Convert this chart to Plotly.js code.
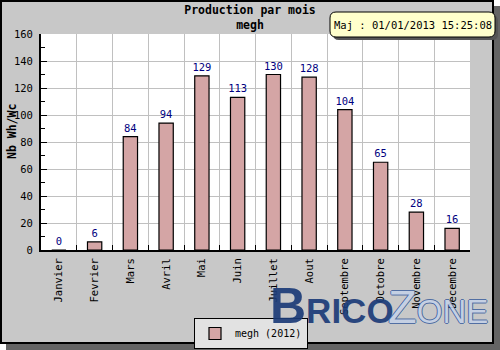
<!DOCTYPE html>
<html>
<head>
<meta charset="utf-8">
<script src="https://cdn.plot.ly/plotly-3.0.1.min.js"></script>
<style>
  html, body { margin: 0; padding: 0; background: #ffffff; }
  #frame {
    position: absolute; left: 0; top: 0;
    width: 490px; height: 340px;
    border: 2px solid #000000;
    background: #c8c8c8;
    box-shadow: 6px 6px 0 #646464;
  }
  #chart { position: absolute; left: 0; top: 0; width: 500px; height: 350px; }
</style>
</head>
<body>
<div id="frame"></div>
<div id="chart"></div>
<script>
// Monthly production data
const months = ['Janvier', 'Fevrier', 'Mars', 'Avril', 'Mai', 'Juin',
                'Juillet', 'Aout', 'Septembre', 'Octobre', 'Novembre', 'Decembre'];
const production = [0, 6, 84, 94, 129, 113, 130, 128, 104, 65, 28, 16];
const seriesName = 'megh (2012)';
const chartTitle = 'Production par mois<br>megh';
const yTitle = 'Nb Wh/Wc';
const updateStamp = 'Maj : 01/01/2013 15:25:08';

// Plot area edges in page pixels, used to place the decorations
const L = 41, R = 470, T = 34, B = 250;
const px = x => (x - L) / (R - L);
const py = y => (B - y) / (B - T);

function roundRectPath(x0, y0, x1, y1, r) {
  const p = (x, y) => px(x) + ',' + py(y);
  return 'M' + p(x0 + r, y0) + ' L' + p(x1 - r, y0) + ' Q' + p(x1, y0) + ' ' + p(x1, y0 + r) +
         ' L' + p(x1, y1 - r) + ' Q' + p(x1, y1) + ' ' + p(x1 - r, y1) +
         ' L' + p(x0 + r, y1) + ' Q' + p(x0, y1) + ' ' + p(x0, y1 - r) +
         ' L' + p(x0, y0 + r) + ' Q' + p(x0, y0) + ' ' + p(x0 + r, y0) + ' Z';
}

const mono = 'DejaVu Sans Mono, monospace';

const trace = {
  type: 'bar',
  x: months,
  y: production,
  name: seriesName,
  marker: { color: 'rgb(212,165,165)', line: { color: '#000000', width: 1.2 } },
  texttemplate: '%{y}',
  textposition: 'outside',
  constraintext: 'none',
  cliponaxis: false,
  textfont: { family: mono, size: 10.5, color: '#000080' },
  hoverinfo: 'x+y'
};

const layout = {
  width: 500, height: 350,
  margin: { l: L, r: 500 - R, t: T, b: 350 - B, autoexpand: false },
  paper_bgcolor: 'rgba(0,0,0,0)',
  plot_bgcolor: '#ffffff',
  bargap: 0.6,
  title: {
    text: chartTitle,
    font: { family: mono, size: 11.5, color: '#000000', weight: 'bold' },
    x: 0.5, xref: 'container', xanchor: 'center',
    y: 1 - 14 / 350, yref: 'container', yanchor: 'top'
  },
  xaxis: {
    type: 'category',
    tickson: 'boundaries',
    ticks: 'inside', ticklen: 5, tickcolor: '#000000', tickwidth: 1,
    showgrid: true, gridcolor: '#c0c0c0', gridwidth: 1,
    showline: true, linecolor: '#000000', linewidth: 2,
    tickangle: -90,
    tickfont: { family: mono, size: 10.5, color: '#000000' },
    ticklabelstandoff: 2,
    fixedrange: true
  },
  yaxis: {
    range: [0, 160], dtick: 20,
    ticks: 'inside', ticklen: 6, tickcolor: '#000000', tickwidth: 1,
    minor: { dtick: 10, ticks: 'inside', ticklen: 4, tickcolor: '#000000', showgrid: false },
    showgrid: true, gridcolor: '#c0c0c0', gridwidth: 1,
    showline: true, linecolor: '#000000', linewidth: 2,
    zeroline: false,
    tickfont: { family: mono, size: 10.5, color: '#000000' },
    ticklabelstandoff: 4,
    fixedrange: true
  },
  showlegend: true,
  legend: {
    x: px(194), xanchor: 'left',
    y: py(318), yanchor: 'top',
    bgcolor: '#e2e2e2', bordercolor: '#000000', borderwidth: 1,
    font: { family: mono, size: 10, color: '#000000' },
    itemwidth: 30
  },
  shapes: [
    // legend shadow
    { type: 'rect', xref: 'paper', yref: 'paper', layer: 'above',
      x0: px(197), x1: px(307), y0: py(321), y1: py(349),
      fillcolor: '#646464', line: { width: 0 } },
    // update stamp box shadow and box
    { type: 'path', xref: 'paper', yref: 'paper', layer: 'above',
      path: roundRectPath(333, 15, 498, 40, 6),
      fillcolor: '#555555', line: { width: 0 } },
    { type: 'path', xref: 'paper', yref: 'paper', layer: 'above',
      path: roundRectPath(330, 12, 495, 37, 6),
      fillcolor: '#ffffcc', line: { color: '#000000', width: 1 } }
  ],
  annotations: [
    { text: yTitle, textangle: -90, showarrow: false,
      xref: 'paper', yref: 'paper', x: px(12), y: py(132),
      xanchor: 'center', yanchor: 'middle',
      font: { family: mono, size: 11.5, color: '#000000', weight: 'bold' } },
    { text: updateStamp, showarrow: false,
      xref: 'paper', yref: 'paper', x: px(413), y: py(25),
      xanchor: 'center', yanchor: 'middle',
      font: { family: mono, size: 10.5, color: '#000000' } },
    // site watermark
    { text: 'Brico', showarrow: false,
      xref: 'paper', yref: 'paper', x: px(268), y: py(336),
      xanchor: 'left', yanchor: 'bottom', opacity: 0.92,
      font: { family: 'Liberation Sans, Arial, sans-serif', size: 50, weight: 'bold',
              variant: 'small-caps', color: '#1c3c78' } },
    { text: 'Zone', showarrow: false,
      xref: 'paper', yref: 'paper', x: px(386), y: py(335),
      xanchor: 'left', yanchor: 'bottom', opacity: 0.9,
      font: { family: 'Liberation Sans, Arial, sans-serif', size: 47,
              variant: 'small-caps', color: 'rgba(225,232,245,0.85)',
              shadow: '1px 0 0 #2f5598, -1px 0 0 #2f5598, 0 1px 0 #2f5598, 0 -1px 0 #2f5598' } }
  ]
};

Plotly.newPlot('chart', [trace], layout, { staticPlot: true, displayModeBar: false });
</script>
</body>
</html>
